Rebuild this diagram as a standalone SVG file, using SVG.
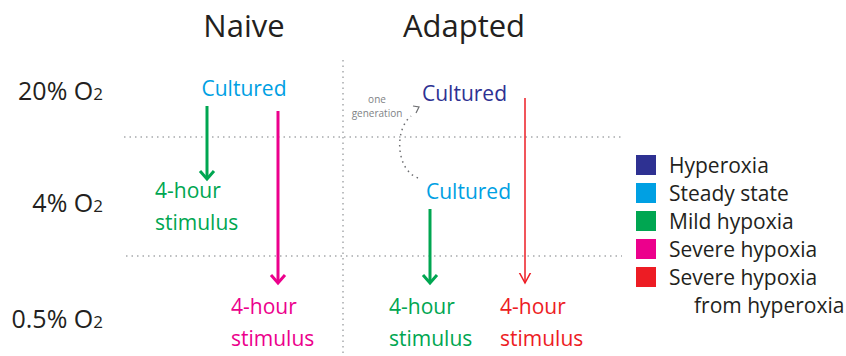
<svg xmlns="http://www.w3.org/2000/svg" width="846" height="356" viewBox="0 0 846 356">
<style>
text{font-family:"Open Sans","Noto Sans",sans-serif}
.hdr{font-size:31px;fill:#231f20;text-anchor:middle}
.lvl{font-size:25px;fill:#231f20;text-anchor:end}
.sub{font-size:17px}
.lbl{font-size:21px}
.leg{font-size:21px;fill:#231f20}
.grid{stroke:#a7a9ac;stroke-width:1.5;stroke-dasharray:1.5 4;fill:none}
.gen{stroke:#6d6e71;stroke-width:1.5;stroke-dasharray:1.5 4;fill:none}
</style>
<defs>
<marker id="ah" viewBox="-10 -10 20 20" markerWidth="20" markerHeight="20" markerUnits="userSpaceOnUse" orient="auto" refX="0" refY="0">
<path d="M-8,-7 L0,0 L-8,7" fill="none" stroke="context-stroke" stroke-width="3"/>
</marker>
<marker id="ahthin" viewBox="-10 -10 20 20" markerWidth="20" markerHeight="20" markerUnits="userSpaceOnUse" orient="auto" refX="0" refY="0">
<path d="M-13,-7 L0,0 L-13,7" fill="none" stroke="#ed1c24" stroke-width="1.5"/>
</marker>
</defs>
<rect width="846" height="356" fill="#fff"/>
<g id="grid">
<line class="grid" x1="343" y1="60" x2="343" y2="356"/>
<line class="grid" x1="124" y1="137" x2="622" y2="137"/>
<line class="grid" x1="126" y1="256" x2="622" y2="256"/>
</g>
<g id="headers">
<text class="hdr" x="244" y="37">Naive</text>
<text class="hdr" x="464" y="37">Adapted</text>
</g>
<g id="levels">
<text class="lvl" x="103" y="100">20% O<tspan class="sub">2</tspan></text>
<text class="lvl" x="103" y="212">4% O<tspan class="sub">2</tspan></text>
<text class="lvl" x="103" y="328">0.5% O<tspan class="sub">2</tspan></text>
</g>
<g id="connectors">
<line x1="207" y1="106" x2="207" y2="179" stroke="#00a651" stroke-width="3" marker-end="url(#ah)"/>
<line x1="278" y1="111" x2="278" y2="283" stroke="#ec008c" stroke-width="3" marker-end="url(#ah)"/>
<line x1="430" y1="209" x2="430" y2="283" stroke="#00a651" stroke-width="3" marker-end="url(#ah)"/>
<line x1="525" y1="98" x2="525" y2="283" stroke="#ed1c24" stroke-width="1.5" marker-end="url(#ahthin)"/>
<path class="gen" d="M418,178 C396,170 394,130 411,116"/>
<path d="M413,106 L419,107 L416,113" fill="none" stroke="#6d6e71" stroke-width="1.2"/>
</g>
<g id="naive-cultured"><text class="lbl" x="244" y="96" fill="#00a0e3" text-anchor="middle">Cultured</text></g>
<g id="naive-mild"><text class="lbl" fill="#00a651" x="155" y="198">4-hour</text><text class="lbl" fill="#00a651" x="155" y="230">stimulus</text></g>
<g id="naive-severe"><text class="lbl" fill="#ec008c" x="231" y="314">4-hour</text><text class="lbl" fill="#ec008c" x="231" y="346">stimulus</text></g>
<g id="adapted-hyper"><text class="lbl" x="422" y="101" fill="#2e3192">Cultured</text></g>
<g id="one-generation"><text x="377" y="103" font-size="10" fill="#808285" text-anchor="middle">one</text><text x="377" y="117" font-size="10" fill="#808285" text-anchor="middle">generation</text></g>
<g id="adapted-steady"><text class="lbl" x="426" y="199" fill="#00a0e3">Cultured</text></g>
<g id="adapted-mild"><text class="lbl" fill="#00a651" x="389" y="314">4-hour</text><text class="lbl" fill="#00a651" x="389" y="346">stimulus</text></g>
<g id="adapted-severe"><text class="lbl" fill="#ed1c24" x="500" y="314">4-hour</text><text class="lbl" fill="#ed1c24" x="500" y="346">stimulus</text></g>
<g id="legend">
<rect x="636" y="155" width="20" height="20" fill="#2e3192"/>
<rect x="636" y="183" width="20" height="20" fill="#00a0e3"/>
<rect x="636" y="211" width="20" height="20" fill="#00a651"/>
<rect x="636" y="239" width="20" height="20" fill="#ec008c"/>
<rect x="636" y="267" width="20" height="20" fill="#ed1c24"/>
<text class="leg" x="669" y="173">Hyperoxia</text>
<text class="leg" x="669" y="201">Steady state</text>
<text class="leg" x="669" y="229">Mild hypoxia</text>
<text class="leg" x="669" y="257">Severe hypoxia</text>
<text class="leg" x="669" y="285">Severe hypoxia</text>
<text class="leg" x="694" y="313">from hyperoxia</text>
</g>
</svg>
